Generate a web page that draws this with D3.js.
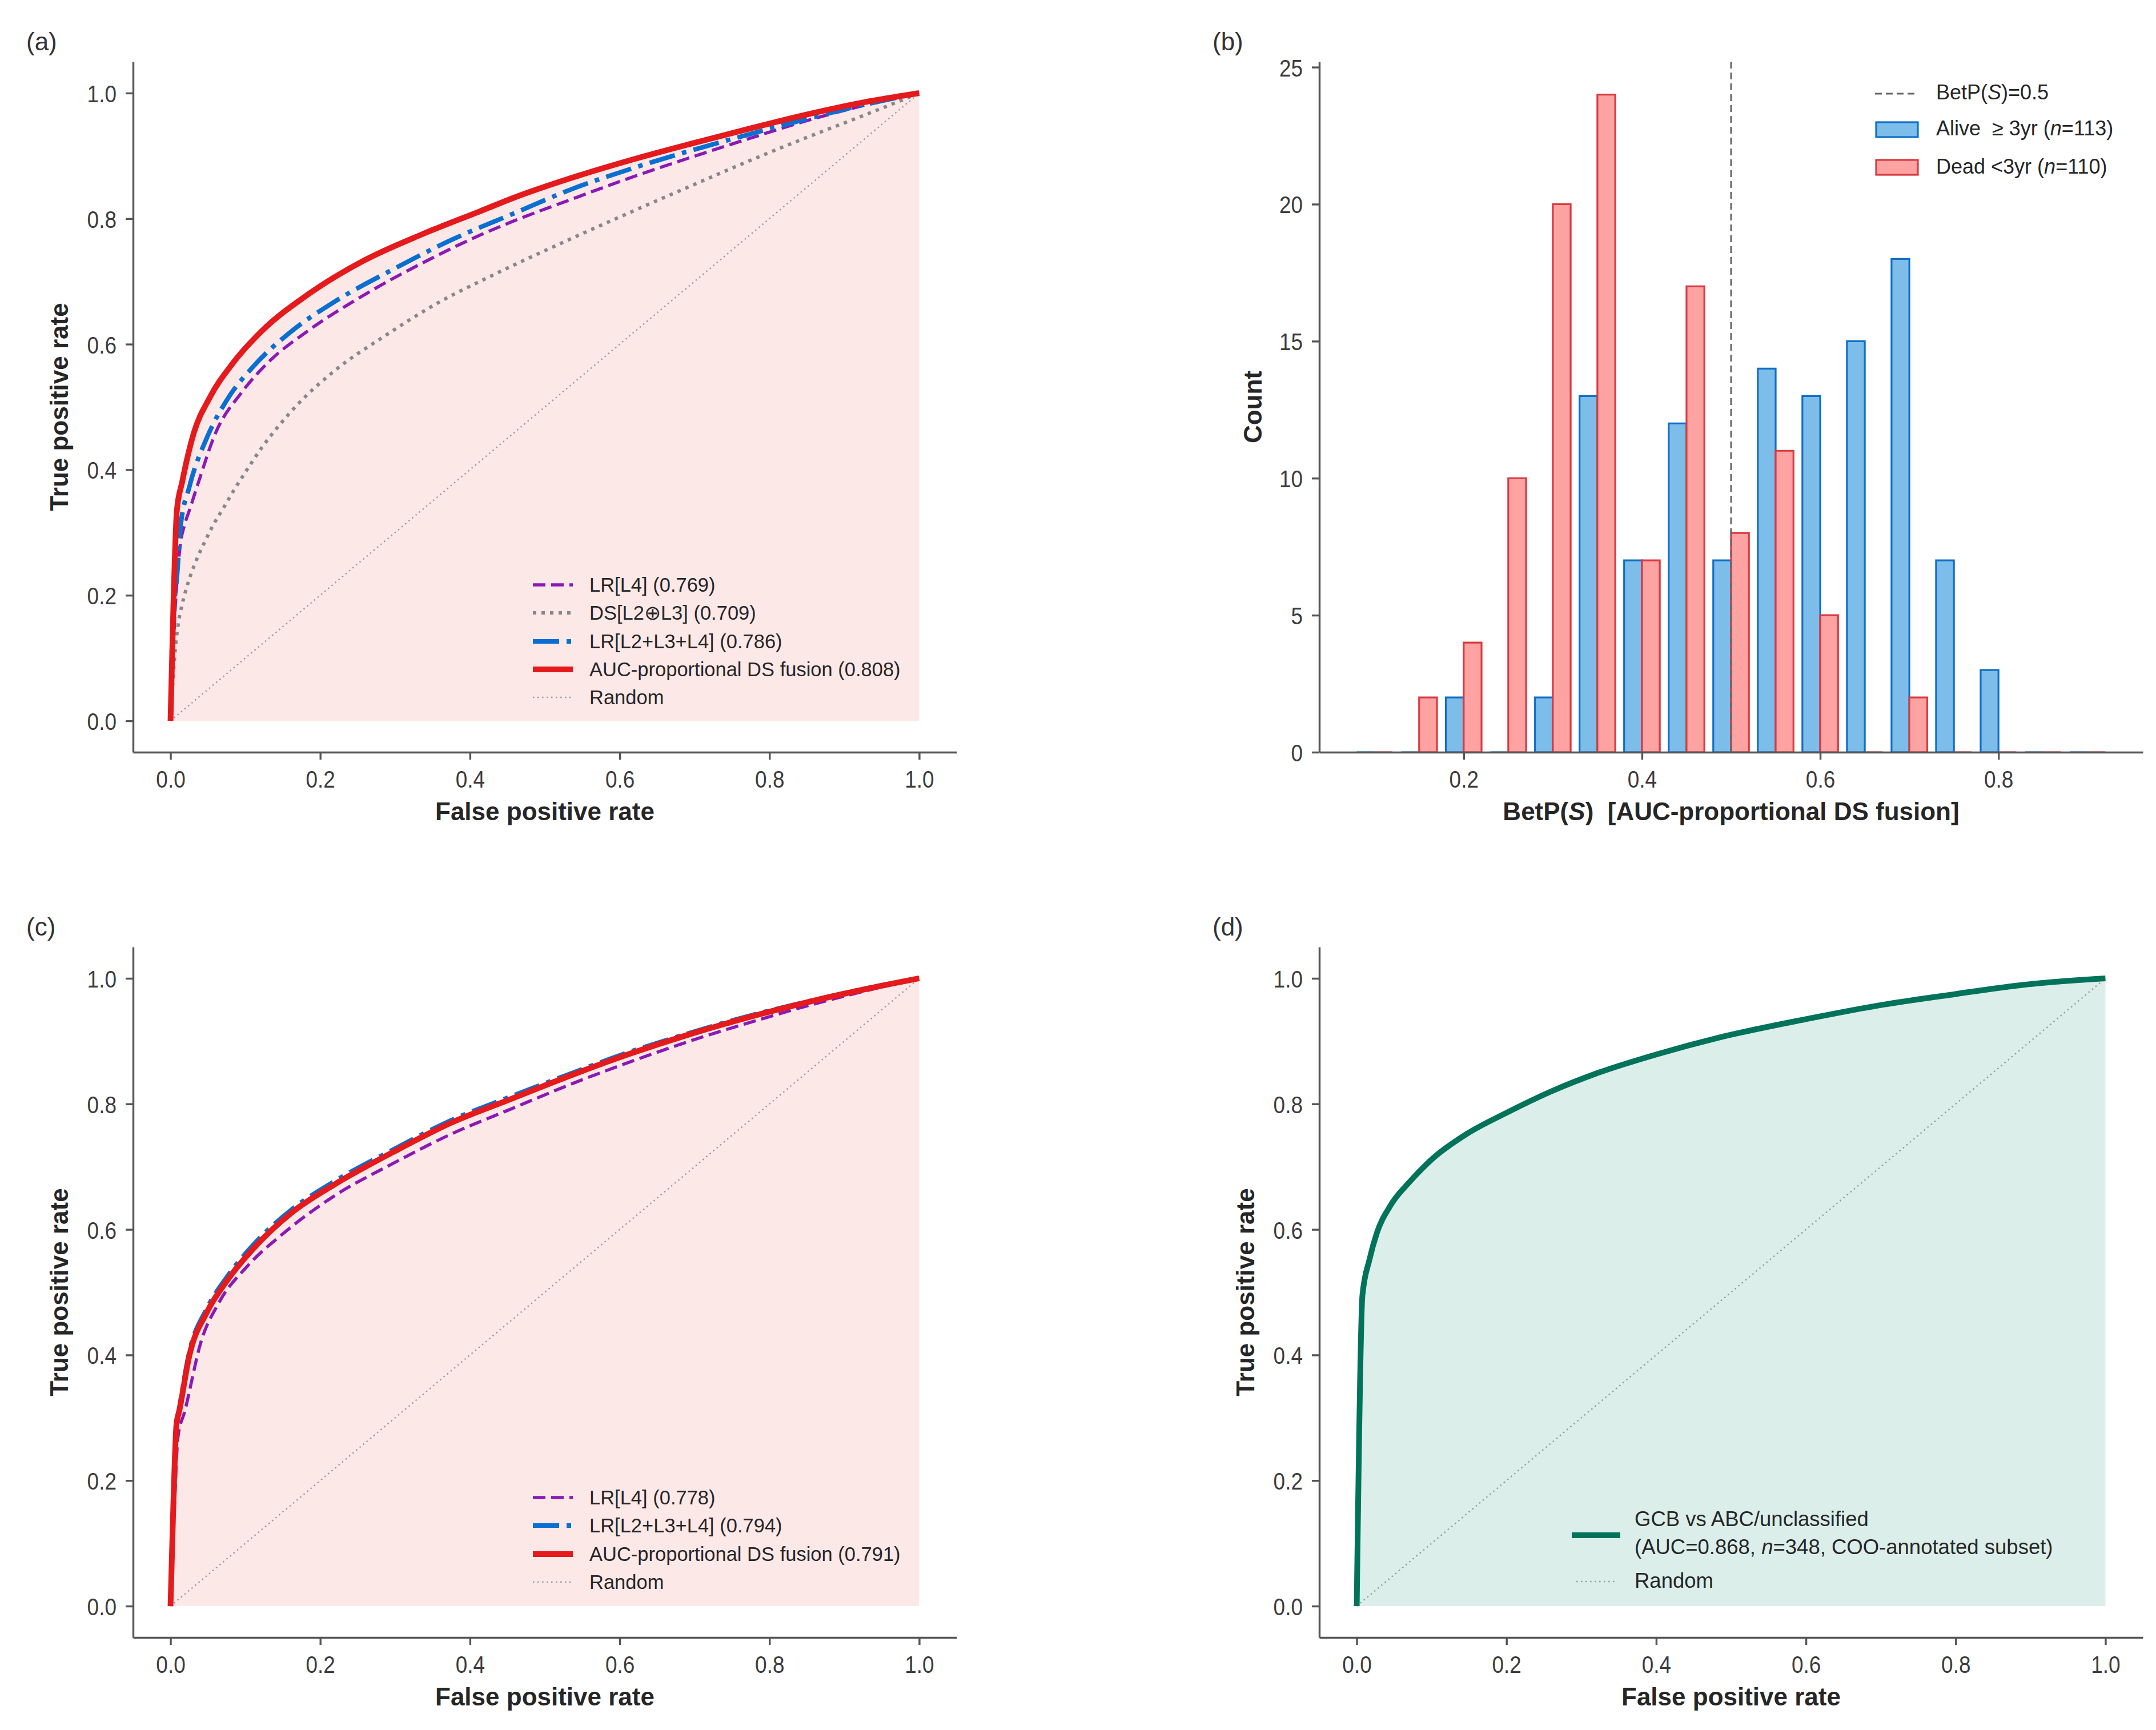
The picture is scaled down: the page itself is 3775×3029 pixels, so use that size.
<!DOCTYPE html>
<html>
<head>
<meta charset="utf-8">
<script src="https://cdn.jsdelivr.net/npm/d3@7"></script>
<style>
  body { margin: 0; background: #fff; }
  text { white-space: pre; }
</style>
</head>
<body>
<div id="chart"></div>
<script>

// ---- data ----
// (a) ROC curves, false positive rate / true positive rate
var aLR4Fpr   = [0, 0.005, 0.0135, 0.0185, 0.026, 0.036, 0.060, 0.095, 0.134, 0.181, 0.258, 0.336, 0.414, 0.458, 0.536, 0.614, 0.691, 0.769, 0.847, 0.925, 1];
var aLR4Tpr   = [0, 0.15, 0.284, 0.311, 0.338, 0.375, 0.458, 0.523, 0.575, 0.619, 0.678, 0.729, 0.774, 0.796, 0.831, 0.865, 0.896, 0.926, 0.955, 0.980, 1];
var aDSFpr    = [0, 0.003, 0.006, 0.01, 0.015, 0.02, 0.0274, 0.0363, 0.0465, 0.058, 0.0707, 0.084, 0.1, 0.123, 0.146, 0.169, 0.2195, 0.286, 0.356, 0.434, 0.511, 0.614, 0.691, 0.769, 0.847, 0.925, 1];
var aDSTpr    = [0, 0.06, 0.11, 0.152, 0.183, 0.206, 0.234, 0.261, 0.287, 0.314, 0.339, 0.366, 0.396, 0.437, 0.472, 0.503, 0.558, 0.613, 0.665, 0.712, 0.755, 0.810, 0.850, 0.890, 0.928, 0.964, 1];
var aLR234Fpr = [0, 0.004, 0.009, 0.0135, 0.025, 0.0486, 0.0758, 0.111, 0.161, 0.2195, 0.297, 0.375, 0.458, 0.536, 0.614, 0.691, 0.769, 0.847, 0.925, 1];
var aLR234Tpr = [0, 0.16, 0.235, 0.310, 0.372, 0.451, 0.512, 0.565, 0.620, 0.668, 0.719, 0.766, 0.808, 0.847, 0.879, 0.907, 0.933, 0.958, 0.981, 1];
var aFusFpr   = [0, 0.004, 0.0085, 0.0155, 0.031, 0.052, 0.0835, 0.122, 0.181, 0.258, 0.336, 0.414, 0.458, 0.536, 0.614, 0.691, 0.769, 0.847, 0.925, 1];
var aFusTpr   = [0, 0.19, 0.335, 0.380, 0.458, 0.514, 0.570, 0.621, 0.677, 0.733, 0.775, 0.812, 0.833, 0.865, 0.893, 0.918, 0.942, 0.965, 0.985, 1];

// (b) BetP(S) histogram, bin centres and counts
var binCenters  = [0.10, 0.15, 0.20, 0.25, 0.30, 0.35, 0.40, 0.45, 0.50, 0.55, 0.60, 0.65, 0.70, 0.75, 0.80, 0.85, 0.90];
var aliveCounts = [0, 0, 2, 0, 2, 13, 7, 12, 7, 14, 13, 15, 18, 7, 3, 0, 0];
var deadCounts  = [0, 2, 4, 10, 20, 24, 7, 17, 8, 11, 5, 0, 2, 0, 0, 0, 0];
var betpThreshold = 0.5;

// (c) ROC curves
var cLR4Fpr   = [0, 0.005, 0.01, 0.019, 0.0407, 0.064, 0.103, 0.150, 0.2195, 0.297, 0.375, 0.453, 0.536, 0.614, 0.691, 0.769, 0.847, 0.925, 1];
var cLR4Tpr   = [0, 0.15, 0.27, 0.310, 0.421, 0.482, 0.542, 0.593, 0.654, 0.705, 0.752, 0.791, 0.832, 0.867, 0.899, 0.928, 0.955, 0.979, 1];
var cLR234Fpr = [0, 0.004, 0.008, 0.0116, 0.025, 0.0486, 0.0758, 0.111, 0.161, 0.2195, 0.297, 0.375, 0.453, 0.536, 0.614, 0.691, 0.769, 0.847, 0.925, 1];
var cLR234Tpr = [0, 0.17, 0.29, 0.315, 0.404, 0.474, 0.525, 0.576, 0.631, 0.677, 0.727, 0.774, 0.811, 0.849, 0.883, 0.912, 0.939, 0.962, 0.983, 1];
var cFusFpr   = [0, 0.004, 0.008, 0.0116, 0.025, 0.0486, 0.0758, 0.111, 0.161, 0.2195, 0.297, 0.375, 0.453, 0.536, 0.614, 0.691, 0.769, 0.847, 0.925, 1];
var cFusTpr   = [0, 0.17, 0.29, 0.310, 0.398, 0.468, 0.519, 0.570, 0.626, 0.672, 0.723, 0.770, 0.807, 0.846, 0.880, 0.910, 0.937, 0.961, 0.982, 1];

// (d) COO ROC curve
var dCooFpr = [0, 0.0076, 0.017, 0.0265, 0.0455, 0.0708, 0.1024, 0.1467, 0.2004, 0.26, 0.3236, 0.4008, 0.4817, 0.6, 0.703, 0.8, 0.8925, 1];
var dCooTpr = [0, 0.495, 0.552, 0.593, 0.639, 0.676, 0.714, 0.752, 0.786, 0.820, 0.850, 0.879, 0.905, 0.935, 0.958, 0.975, 0.990, 1];

// ticks
var rocTicks   = [0, 0.2, 0.4, 0.6, 0.8, 1.0];
var betpTicks  = [0.2, 0.4, 0.6, 0.8];
var countTicks = [0, 5, 10, 15, 20, 25];

// ---- layout ----
var W = 3775, H = 3029,
    FONT = "'Liberation Sans', Arial, Helvetica, sans-serif",
    colLeft = [233, 2310], rowTop = [108, 1658],
    pw = 1442, ph = 1209,
    tickNarrow = 0.86;

var svg = d3.select("#chart").append("svg")
    .attr("width", W)
    .attr("height", H);
svg.append("rect").attr("width", W).attr("height", H).attr("fill", "#fff");

function panel (col, row) {
  return svg.append("g")
      .attr("transform", "translate(" + colLeft[col] + "," + rowTop[row] + ")");
}

function axes (g, x, y, xTicks, yTicks, xFmt, yFmt) {
  var xAxis = d3.axisBottom(x).tickValues(xTicks).tickFormat(xFmt).tickSizeInner(13).tickSizeOuter(0);
  var yAxis = d3.axisLeft(y).tickValues(yTicks).tickFormat(yFmt).tickSizeInner(13).tickSizeOuter(0);
  var gx = g.append("g").attr("transform", "translate(0," + ph + ")").call(xAxis);
  var gy = g.append("g").call(yAxis);
  [gx, gy].forEach(function (a) {
    a.select(".domain").attr("stroke", "#555").attr("stroke-width", 3.4);
    a.selectAll(".tick line").attr("stroke", "#555").attr("stroke-width", 3.4);
    a.selectAll(".tick text")
      .attr("fill", "#3c3c3c")
      .attr("font-size", 43)
      .attr("font-family", FONT)
      .attr("transform", "scale(" + tickNarrow + ",1)");
  });
  gx.selectAll(".tick text").attr("y", 62).attr("dy", 0);
  gy.selectAll(".tick text").attr("x", -29 / tickNarrow).attr("dy", "0.36em");
}

function axisLabels (g, xParts, yText, yLabelX) {
  var t = g.append("text")
      .attr("x", pw / 2).attr("y", ph + 119)
      .attr("text-anchor", "middle")
      .attr("font-family", FONT).attr("font-size", 44).attr("font-weight", "bold")
      .attr("fill", "#262626");
  xParts.forEach(function (p) {
    t.append("tspan").attr("font-style", p[1] ? "italic" : null).text(p[0]);
  });
  g.append("text")
      .attr("transform", "translate(" + yLabelX + "," + (ph / 2) + ") rotate(-90)")
      .attr("text-anchor", "middle")
      .attr("dy", "0.36em")
      .attr("font-family", FONT).attr("font-size", 44).attr("font-weight", "bold")
      .attr("fill", "#262626")
      .text(yText);
}

function panelLabel (col, row, s) {
  svg.append("text")
      .attr("x", col === 0 ? 46 : 2123)
      .attr("y", row === 0 ? 88 : 1638)
      .attr("font-family", FONT).attr("font-size", 44)
      .attr("fill", "#333")
      .text(s);
}

// styles for the ROC curves
var styles = {
  lr4:    {stroke: "#8b19b3", width: 5.5, dash: "22 10"},
  ds:     {stroke: "#888888", width: 6,   dash: "6 9"},
  lr234:  {stroke: "#0a6fd0", width: 8,   dash: "46 13 8 13"},
  fusion: {stroke: "#e41a1c", width: 10,  dash: null},
  coo:    {stroke: "#00735a", width: 10,  dash: null},
  random: {stroke: "#9a9a9a", width: 2.5, dash: "2.5 5.5"}
};

function rocPanel (col, row, curves, fillCurve, fillColor, legendRows) {
  var g = panel(col, row);
  var x = d3.scaleLinear().domain([-0.05, 1.05]).range([0, pw]);
  var y = d3.scaleLinear().domain([-0.05, 1.05]).range([ph, 0]);

  var area = d3.area()
      .curve(d3.curveMonotoneX)
      .x(function (d) { return x(d[0]); })
      .y0(y(0))
      .y1(function (d) { return y(d[1]); });
  var line = d3.line()
      .curve(d3.curveMonotoneX)
      .x(function (d) { return x(d[0]); })
      .y(function (d) { return y(d[1]); });

  g.append("path").datum(fillCurve).attr("d", area).attr("fill", fillColor);

  g.append("path").datum([[0, 0], [1, 1]])
      .attr("d", line).attr("fill", "none")
      .attr("stroke", styles.random.stroke)
      .attr("stroke-width", styles.random.width)
      .attr("stroke-dasharray", styles.random.dash);

  curves.forEach(function (c) {
    var s = styles[c.key];
    g.append("path").datum(c.pts)
        .attr("d", line).attr("fill", "none")
        .attr("stroke", s.stroke)
        .attr("stroke-width", s.width)
        .attr("stroke-dasharray", s.dash)
        .attr("stroke-linejoin", "round");
  });

  axes(g, x, y, rocTicks, rocTicks, d3.format(".1f"), d3.format(".1f"));
  axisLabels(g, [["False positive rate"]], "True positive rate", -130);

  var lg = g.append("g");
  legendRows.forEach(function (r) {
    var s = styles[r.key];
    lg.append("line")
        .attr("x1", r.hx0).attr("x2", r.hx1).attr("y1", r.y).attr("y2", r.y)
        .attr("stroke", s.stroke).attr("stroke-width", s.width)
        .attr("stroke-dasharray", s.dash);
    r.lines.forEach(function (txt, i) {
      var t = lg.append("text")
          .attr("x", r.tx).attr("y", r.ty + i * 49)
          .attr("font-family", FONT).attr("font-size", r.size)
          .attr("fill", "#262626");
      txt.forEach(function (p) {
        t.append("tspan").attr("font-style", p[1] ? "italic" : null).text(p[0]);
      });
    });
  });
  return g;
}

function legendRow (key, y, text, size) {
  return {key: key, y: y, hx0: 700, hx1: 770, tx: 799, ty: y + 12, size: size || 34.5, lines: [[[text]]]};
}

// ---- (a) ----
var aFus = d3.zip(aFusFpr, aFusTpr);
rocPanel(0, 0, [
    {key: "ds",     pts: d3.zip(aDSFpr, aDSTpr)},
    {key: "lr4",    pts: d3.zip(aLR4Fpr, aLR4Tpr)},
    {key: "lr234",  pts: d3.zip(aLR234Fpr, aLR234Tpr)},
    {key: "fusion", pts: aFus}
  ], aFus, "#fde8e8", [
    legendRow("lr4", 916, "LR[L4] (0.769)"),
    legendRow("ds", 965, "DS[L2\u2295L3] (0.709)"),
    legendRow("lr234", 1015, "LR[L2+L3+L4] (0.786)"),
    legendRow("fusion", 1064, "AUC-proportional DS fusion (0.808)"),
    legendRow("random", 1113, "Random")
  ]);
panelLabel(0, 0, "(a)");

// ---- (c) ----
var cFus = d3.zip(cFusFpr, cFusTpr);
rocPanel(0, 1, [
    {key: "lr4",    pts: d3.zip(cLR4Fpr, cLR4Tpr)},
    {key: "lr234",  pts: d3.zip(cLR234Fpr, cLR234Tpr)},
    {key: "fusion", pts: cFus}
  ], cFus, "#fde8e8", [
    legendRow("lr4", 964, "LR[L4] (0.778)"),
    legendRow("lr234", 1013, "LR[L2+L3+L4] (0.794)"),
    legendRow("fusion", 1063, "AUC-proportional DS fusion (0.791)"),
    legendRow("random", 1112, "Random")
  ]);
panelLabel(0, 1, "(c)");

// ---- (d) ----
var dCoo = d3.zip(dCooFpr, dCooTpr);
rocPanel(1, 1, [
    {key: "coo", pts: dCoo}
  ], dCoo, "#dceeea", [
    {key: "coo", y: 1030, hx0: 442, hx1: 527, tx: 552, ty: 1014, size: 36.5,
      lines: [[["GCB vs ABC/unclassified"]],
              [["(AUC=0.868, "], ["n", true], ["=348, COO-annotated subset)"]]]},
    {key: "random", y: 1111, hx0: 450, hx1: 521, tx: 552, ty: 1122, size: 36.5, lines: [[["Random"]]]}
  ]);
panelLabel(1, 1, "(d)");

// ---- (b) histogram ----
(function () {
  var g = panel(1, 0);
  var x = d3.scaleLinear().domain([0.038, 0.962]).range([0, pw]);
  var y = d3.scaleLinear().domain([0, 25.2]).range([ph, 0]);
  var bw = 0.02;

  function barPath (x0, v) {
    var a = x(x0), b = x(x0 + bw), top = y(v), base = y(0);
    return "M" + a + "," + base + "V" + top + "H" + b + "V" + base + "Z";
  }

  var series = [
    {counts: aliveCounts, off: -bw, fill: "#7dbdea", stroke: "#0f6fc6"},
    {counts: deadCounts,  off: 0,   fill: "#ffa2a2", stroke: "#d93a40"}
  ];
  series.forEach(function (s) {
    g.selectAll(null)
      .data(d3.zip(binCenters, s.counts))
      .enter().append("path")
        .attr("d", function (d) { return barPath(d[0] + s.off, d[1]); })
        .attr("fill", s.fill)
        .attr("stroke", s.stroke)
        .attr("stroke-width", 3.2)
        .attr("stroke-linejoin", "miter");
  });

  g.append("line")
      .attr("x1", x(betpThreshold)).attr("x2", x(betpThreshold))
      .attr("y1", 0).attr("y2", ph)
      .attr("stroke", "#666").attr("stroke-width", 3)
      .attr("stroke-dasharray", "12 7");

  axes(g, x, y, betpTicks, countTicks, d3.format(".1f"), d3.format("d"));
  axisLabels(g, [["BetP("], ["S", true], [")  [AUC-proportional DS fusion]"]], "Count", -117);

  var lg = g.append("g");
  lg.append("line")
      .attr("x1", 973).attr("x2", 1048).attr("y1", 56).attr("y2", 56)
      .attr("stroke", "#666").attr("stroke-width", 3).attr("stroke-dasharray", "12 7");
  lg.append("rect").attr("x", 975).attr("y", 106).attr("width", 73).attr("height", 26)
      .attr("fill", series[0].fill).attr("stroke", series[0].stroke).attr("stroke-width", 3.2);
  lg.append("rect").attr("x", 975).attr("y", 172).attr("width", 73).attr("height", 26)
      .attr("fill", series[1].fill).attr("stroke", series[1].stroke).attr("stroke-width", 3.2);

  var rows = [
    [["BetP("], ["S", true], [")=0.5"]],
    [["Alive  \u2265 3yr ("], ["n", true], ["=113)"]],
    [["Dead <3yr ("], ["n", true], ["=110)"]]
  ];
  var rowY = [66, 129, 196];
  rows.forEach(function (parts, i) {
    var t = lg.append("text")
        .attr("x", 1080).attr("y", rowY[i])
        .attr("font-family", FONT).attr("font-size", 36)
        .attr("fill", "#262626");
    parts.forEach(function (p) {
      t.append("tspan").attr("font-style", p[1] ? "italic" : null).text(p[0]);
    });
  });
})();
panelLabel(1, 0, "(b)");

</script>
</body>
</html>
